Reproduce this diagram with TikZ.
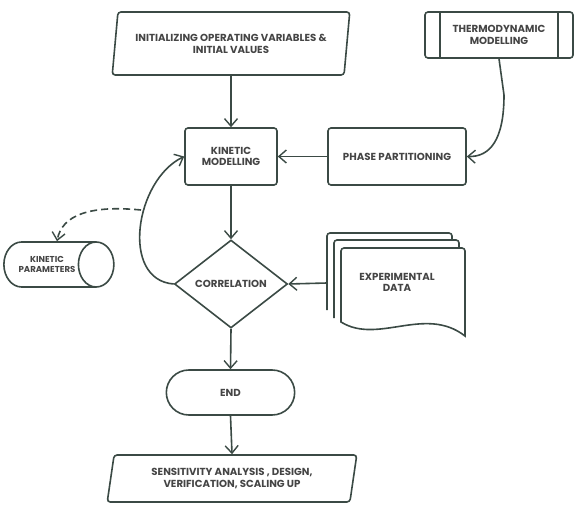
\documentclass[tikz,border=0pt]{standalone}
\usepackage{fontspec}
\setmainfont{Poppins}
\usetikzlibrary{shapes.geometric,shapes.misc,arrows.meta}
\definecolor{ln}{HTML}{3B4A45}
\definecolor{tx}{HTML}{454545}
\begin{document}
\begin{tikzpicture}[x=1pt,y=-1pt,
  every node/.style={font=\fontsize{10.2}{11.8}\selectfont\bfseries, text=tx, align=center},
  ln/.style={draw=ln, line width=1.6pt},
  arr/.style={ln, -{Straight Barb[length=7.5pt,width=13pt,line width=1.4pt]}},
  para/.style={ln, trapezium, trapezium left angle=77, trapezium right angle=103,
    trapezium stretches=true, rounded corners=3pt, inner sep=1pt},
  proc/.style={ln, rectangle, rounded corners=3pt, inner sep=2pt},
]
\useasboundingbox (0,0) rectangle (578,505);
\fill[white] (0,0) rectangle (578,505);

\node[para, minimum width=238pt, minimum height=63pt] (init) at (231,43.5)
  {INITIALIZING OPERATING VARIABLES \&\\INITIAL VALUES};
\node[proc, minimum width=148pt, minimum height=46pt,
  path picture={\draw[ln] ([xshift=15pt]path picture bounding box.north west) -- ([xshift=15pt]path picture bounding box.south west);
                \draw[ln] ([xshift=-15pt]path picture bounding box.north east) -- ([xshift=-15pt]path picture bounding box.south east);}]
  (thermo) at (499,35) {THERMODYNAMIC\\MODELLING};
\node[proc, minimum width=92pt, minimum height=57pt] (kin) at (231,156.5) {KINETIC\\MODELLING};
\node[proc, minimum width=138pt, minimum height=57pt] (phase) at (397,156.5) {PHASE PARTITIONING};
\node[ln, diamond, minimum width=113pt, minimum height=88pt, inner sep=0pt, aspect=1.28] (corr) at (231,284) {CORRELATION};
\node[ln, cylinder, shape aspect=1.9, minimum width=45pt, minimum height=110pt, inner sep=1pt,
  font=\fontsize{8.6}{10.5}\selectfont\bfseries] (kpar) at (47,264.5) {KINETIC\\PARAMETERS};
\node[ln, rounded rectangle, minimum width=135pt, minimum height=45pt] (end) at (230.5,392.5) {END};
\node[para, trapezium left angle=78, trapezium right angle=102, minimum width=250pt, minimum height=47pt] (sens) at (232,478.5)
  {SENSITIVITY ANALYSIS , DESIGN,\\VERIFICATION, SCALING UP};

% experimental data stack
\filldraw[ln, fill=white, rounded corners=3pt] (327,310) -- (327,233) -- (452,233) -- (452,300) [sharp corners] -- (452,300);
\filldraw[ln, fill=white, rounded corners=3pt] (334,318) -- (334,240) -- (459,240) -- (459,320) [sharp corners] -- (459,320);
\filldraw[ln, fill=white] (341,322) [rounded corners=3pt] -- (341,248) -- (465,248) [sharp corners] -- (465,336)
  .. controls (425,305) and (378,345) .. (341,322) -- cycle;
\node (exp) at (397,282.5) {EXPERIMENTAL\\DATA};
\coordinate (expL) at (327,283);

% connectors
\draw[arr] (init.south) -- (kin.north);
\draw[arr] (thermo.south) -- (504,95) .. controls (504,140) and (490,157) .. (phase.east);
\draw[arr] (phase.west) -- (kin.east);
\draw[arr] (kin.south) -- (corr.north);
\draw[arr] (expL) -- (corr.east);
\draw[arr] (corr.west) .. controls (120,280) and (135,180) .. (kin.west);
\coordinate (dstart) at (141,210);
\draw[arr, dashed, dash pattern=on 7pt off 4pt] (dstart) .. controls (90,205) and (62,215) .. ([xshift=10pt]kpar.north);
\draw[arr] (corr.south) -- (end.north);
\draw[arr] (end.south) -- (sens.north);
\end{tikzpicture}
\end{document}
